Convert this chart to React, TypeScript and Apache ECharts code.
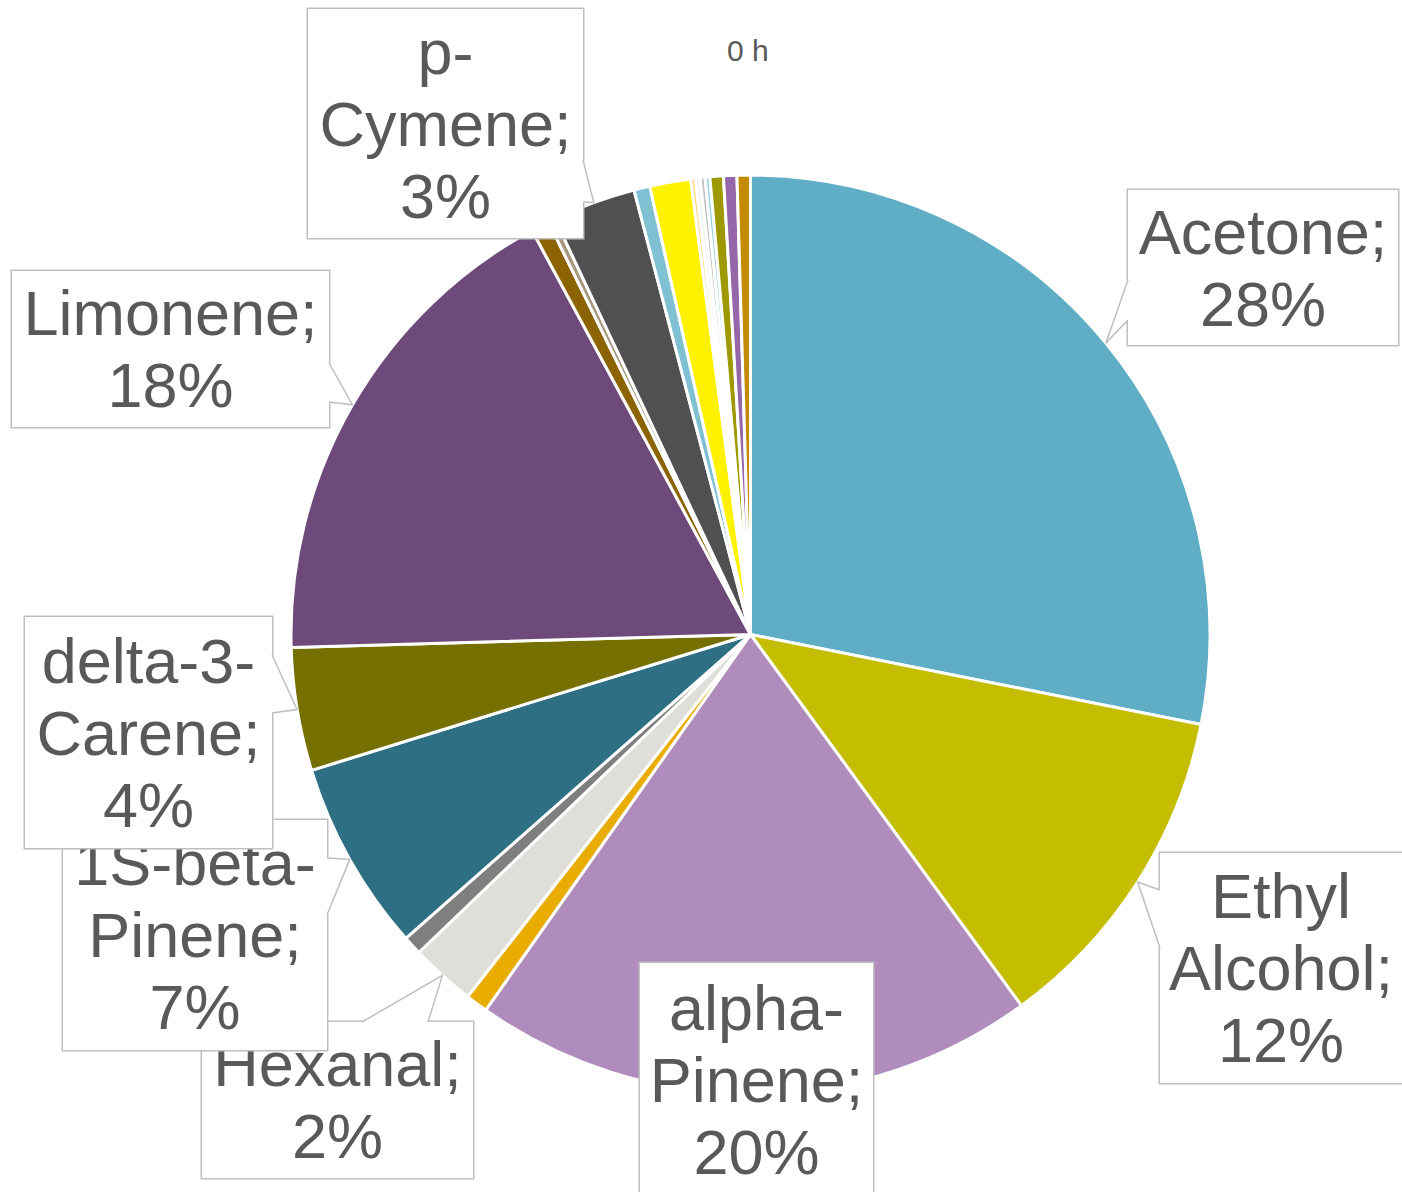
import React, { useEffect, useRef } from "react";
import * as echarts from "echarts";

// ---- data (clockwise from 12 o'clock) ----
const compounds = [
  "Acetone", "Ethyl Alcohol", "alpha-Pinene", "Minor 1", "Hexanal", "Minor 2",
  "1S-beta-Pinene", "delta-3-Carene", "Limonene", "Minor 3", "Minor 4", "p-Cymene",
  "Minor 5", "Minor 6", "Minor 7", "Minor 8", "Minor 9", "Minor 10", "Minor 11",
  "Minor 12", "Minor 13",
];
const shares = [
  28.14, 11.83, 19.81, 0.78, 2.28, 0.67,
  6.72, 4.33, 17.56, 0.64, 0.25, 2.92,
  0.56, 1.44, 0.16, 0.17, 0.17, 0.17, 0.47,
  0.47, 0.47,
];
const sliceColors = [
  "#5FAEC6", "#C5BD00", "#B08CBD", "#E8AD00", "#E0DED8", "#7F7F7F",
  "#2E6F84", "#757000", "#6E4A7B", "#8B6300", "#A89880", "#505053",
  "#7FC1D3", "#FFF200", "#FFD580", "#F2F2F2", "#BFBFBF", "#9FD3E0", "#9E9900",
  "#9566A8", "#C48B00",
];
const wrappedNames: Record<string, string> = {
  "Ethyl Alcohol": "Ethyl\nAlcohol",
  "alpha-Pinene": "alpha-\nPinene",
  "1S-beta-Pinene": "1S-beta-\nPinene",
  "delta-3-Carene": "delta-3-\nCarene",
  "p-Cymene": "p-\nCymene",
};
const chartTitle = "0 h";

// ---- layout of callout boxes (x, y, w, h) and wedge attach points ----
const calloutLayout: Record<string, { box: number[]; wedge?: number[][] }> = {
  Acetone: { box: [1128, 190, 270, 155], wedge: [[1128, 280], [1128, 320]] },
  "Ethyl Alcohol": { box: [1160, 853, 242, 230], wedge: [[1160, 890], [1160, 948]] },
  "alpha-Pinene": { box: [640, 963, 233, 234] },
  Hexanal: { box: [202, 1022, 271, 156], wedge: [[362, 1022], [428, 1022]] },
  "1S-beta-Pinene": { box: [63, 820, 264, 230], wedge: [[327, 858], [327, 915]] },
  "delta-3-Carene": { box: [25, 617, 247, 231], wedge: [[272, 655], [272, 713]] },
  Limonene: { box: [12, 271, 317, 156], wedge: [[329, 363], [329, 402]] },
  "p-Cymene": { box: [308, 9, 275, 229], wedge: [[583, 160], [583, 202]] },
};

const CX = 750.5;
const CY = 634.5;
const R = 459.5;
const FONT = 63;
const LH = 72;
const TEXT_COLOR = "#595959";
const BORDER = "#BFBFBF";

export default function App() {
  const ref = useRef<HTMLDivElement>(null);
  useEffect(() => {
    document.body.style.margin = "0";
    if (!ref.current) return;
    const chart = echarts.init(ref.current, undefined, { renderer: "svg" });
    const total = shares.reduce((a, b) => a + b, 0);

    const labelText = (i: number) => {
      const n = compounds[i];
      const pct = Math.round((shares[i] / total) * 100);
      return `${wrappedNames[n] ?? n};\n${pct}%`;
    };

    const data = compounds.map((name, i) => {
      const lay = calloutLayout[name];
      const item: any = { name, value: shares[i], itemStyle: { color: sliceColors[i] } };
      if (lay) {
        const lines = labelText(i).split("\n").length;
        const padV = (lay.box[3] - lines * LH) / 2;
        item.label = {
          show: true,
          width: lay.box[2],
          padding: [padV, 0, padV, 0],
        };
      } else {
        item.label = { show: false };
      }
      return item;
    });

    // wedge graphics: tip at the middle of each slice's outer edge
    const graphics: any[] = [];
    let cum = 0;
    compounds.forEach((name, i) => {
      const ang = ((cum + shares[i] / 2) / total) * 2 * Math.PI;
      cum += shares[i];
      const lay = calloutLayout[name];
      if (!lay || !lay.wedge) return;
      const tip = [CX + R * Math.sin(ang), CY - R * Math.cos(ang)];
      const [a, b] = lay.wedge;
      graphics.push({
        type: "polygon",
        z: 100,
        silent: true,
        shape: { points: [a, tip, b] },
        style: { fill: "#ffffff", stroke: null },
      });
      graphics.push({
        type: "line",
        z: 100,
        silent: true,
        shape: { x1: a[0], y1: a[1], x2: b[0], y2: b[1] },
        style: { stroke: "#ffffff", lineWidth: 3 },
      });
      graphics.push({
        type: "polyline",
        z: 101,
        silent: true,
        shape: { points: [a, tip, b] },
        style: { stroke: BORDER, lineWidth: 1.5, fill: null },
      });
    });

    chart.setOption({
      animation: false,
      backgroundColor: "#ffffff",
      title: {
        text: chartTitle,
        left: 727,
        top: 35,
        padding: 0,
        textStyle: {
          fontFamily: "Liberation Sans",
          fontSize: 30,
          fontWeight: "normal",
          color: TEXT_COLOR,
        },
      },
      series: [
        {
          type: "pie",
          center: [CX, CY],
          radius: R,
          startAngle: 90,
          clockwise: true,
          avoidLabelOverlap: false,
          minShowLabelAngle: 0,
          itemStyle: { borderColor: "#ffffff", borderWidth: 3 },
          label: {
            show: true,
            formatter: (p: any) => labelText(p.dataIndex),
            fontFamily: "Liberation Sans",
            fontSize: FONT,
            lineHeight: LH,
            color: TEXT_COLOR,
            align: "center",
            backgroundColor: "#ffffff",
            borderColor: BORDER,
            borderWidth: 1.5,
          },
          labelLine: { show: false },
          labelLayout: (params: any) => {
            const lay = calloutLayout[compounds[params.dataIndex]];
            if (!lay) return {};
            return {
              x: lay.box[0] + lay.box[2] / 2,
              y: lay.box[1] + lay.box[3] / 2,
              align: "center",
              verticalAlign: "middle",
            };
          },
          emphasis: { disabled: true },
          data,
        },
      ],
      graphic: graphics,
    });
    return () => chart.dispose();
  }, []);
  return <div ref={ref} style={{ width: 1402, height: 1192 }} />;
}
